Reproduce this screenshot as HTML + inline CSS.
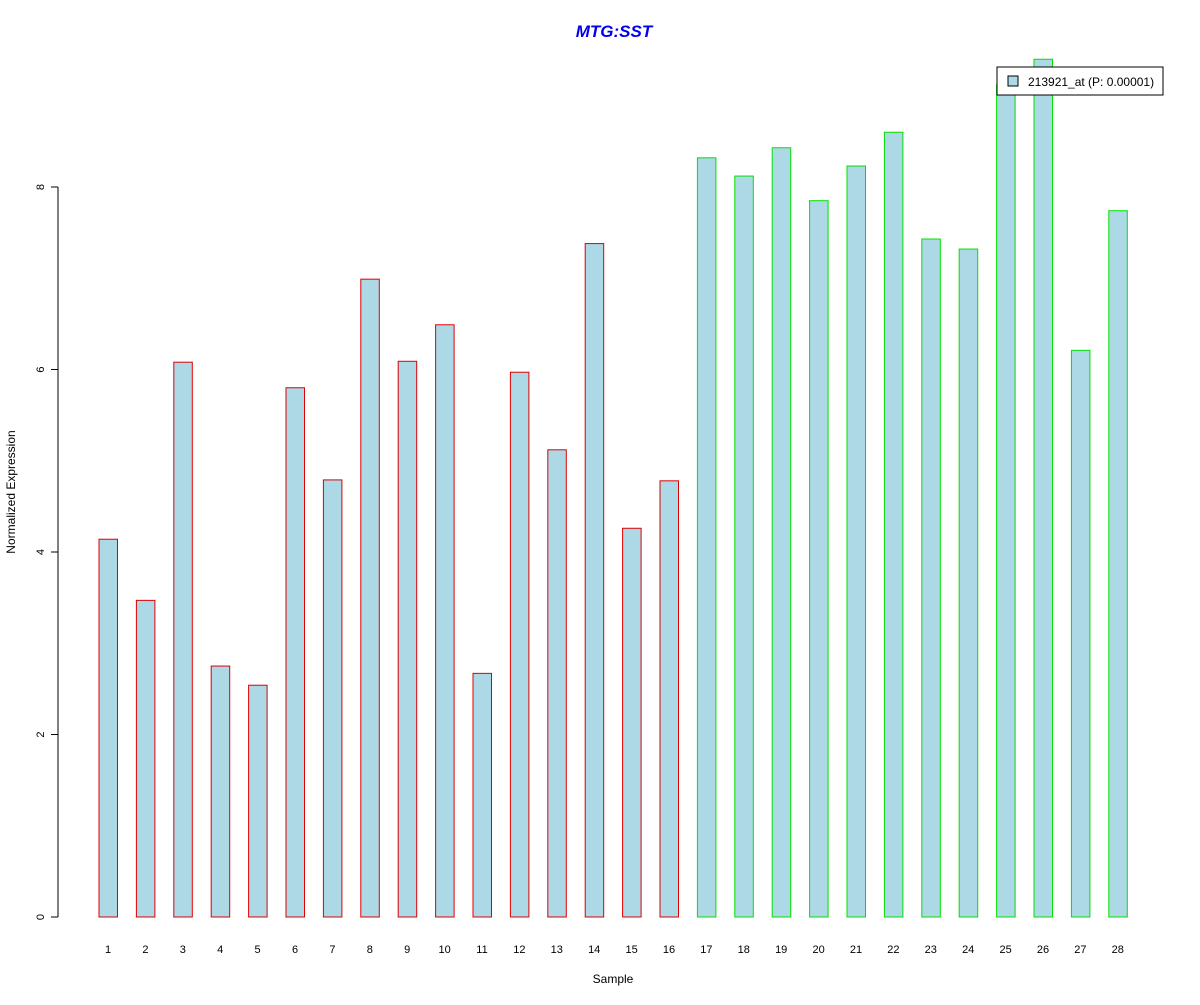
<!DOCTYPE html>
<html><head><meta charset="utf-8"><style>
body{margin:0;background:#fff;}
svg text{font-family:"Liberation Sans",sans-serif;}
</style></head><body>
<svg width="1200" height="1000" xmlns="http://www.w3.org/2000/svg">
<rect width="1200" height="1000" fill="#fff"/>
<text x="614" y="37" text-anchor="middle" font-size="17" font-weight="bold" font-style="italic" fill="#0000ee">MTG:SST</text>
<g id="yaxis"></g>
<g id="bars"></g>
<g id="xlabels"></g>
<text x="613" y="983" text-anchor="middle" font-size="12">Sample</text>
<text transform="translate(15,492) rotate(-90)" text-anchor="middle" font-size="12">Normalized Expression</text>
<g>
<rect x="997" y="67" width="166" height="28" fill="#fff" stroke="#000"/>
<rect x="1008" y="76" width="10" height="10" fill="#add8e6" stroke="#000"/>
<text x="1028" y="86" font-size="12">213921_at (P: 0.00001)</text>
</g>
</svg>
<script>
const categories=["1","2","3","4","5","6","7","8","9","10","11","12","13","14","15","16","17","18","19","20","21","22","23","24","25","26","27","28"];
const values=[4.14,3.47,6.08,2.75,2.54,5.80,4.79,6.99,6.09,6.49,2.67,5.97,5.12,7.38,4.26,4.78,8.32,8.12,8.43,7.85,8.23,8.60,7.43,7.32,9.12,9.40,6.21,7.74];
const groups=["a","a","a","a","a","a","a","a","a","a","a","a","a","a","a","a","b","b","b","b","b","b","b","b","b","b","b","b"];
const yTicks=[0,2,4,6,8];
const NS="http://www.w3.org/2000/svg";
const y=v=>917-v*91.25;
const x=i=>108+i*37.4;
function mk(t,a,p){const e=document.createElementNS(NS,t);for(const k in a)e.setAttribute(k,a[k]);p.appendChild(e);return e;}
const ya=document.getElementById('yaxis');
const ax=mk('line',{x1:58,x2:58,y1:y(yTicks[0]),y2:y(yTicks[yTicks.length-1]),stroke:'#000'},ya);


yTicks.forEach(t=>{
 const l=mk('line',{x1:51,x2:58,y1:y(t),y2:y(t),stroke:'#000'},ya);
 
 
 const tx=mk('text',{transform:`translate(44,${y(t)}) rotate(-90)`,'text-anchor':'middle','font-size':11},ya);
 tx.textContent=t;
 
 
});
const bg=document.getElementById('bars'),xl=document.getElementById('xlabels');
values.forEach((v,i)=>{
 const r=mk('rect',{x:x(i)-9,y:y(v),width:18.5,height:917-y(v),fill:'#add8e6',stroke:groups[i]==='a'?'#e00000':'#00e000'},bg);
 
 
 const t=mk('text',{x:x(i),y:953,'text-anchor':'middle','font-size':11},xl);
 t.textContent=categories[i];
 
 
});
</script>
</body></html>
